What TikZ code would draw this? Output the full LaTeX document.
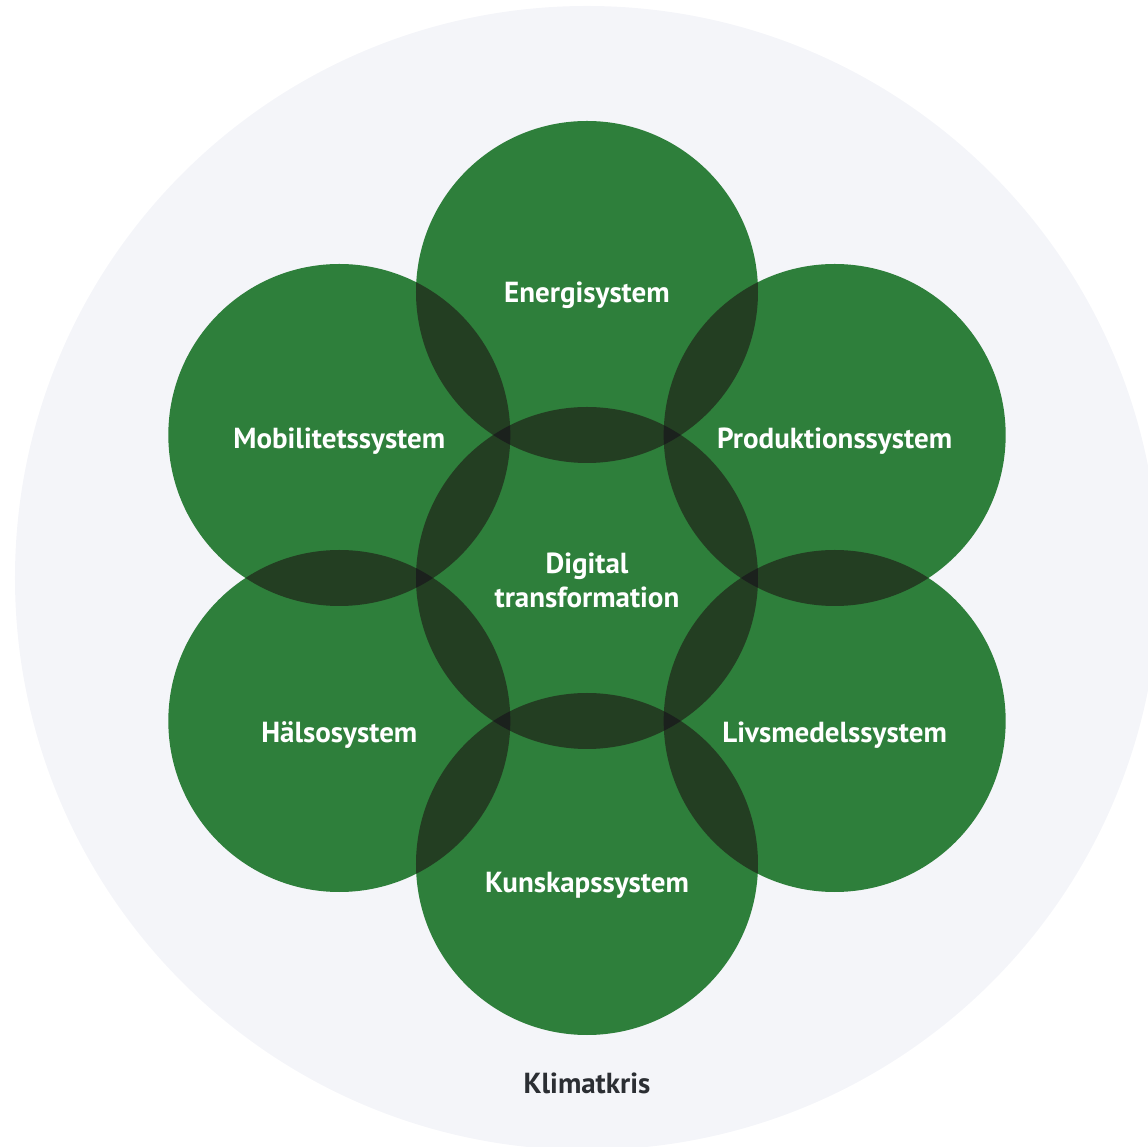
\documentclass[tikz,border=0pt]{standalone}
\usepackage{fontspec}
\setmainfont{PT Sans}
\usetikzlibrary{calc}
\definecolor{sysgreen}{HTML}{2E7F3B}
\definecolor{overlap}{HTML}{233E22}
\definecolor{triple}{HTML}{1B211D}
\definecolor{crisis}{HTML}{F4F5F9}
\definecolor{crisistext}{HTML}{2B2E33}
\newcommand{\sysr}{171}

\begin{document}
\begin{tikzpicture}[
    x=1pt, y=1pt,
    system/.style={circle, fill=sysgreen, minimum size=342pt, inner sep=0pt},
    syslabel/.style={text=white, align=center, font=\fontsize{29}{34}\selectfont\bfseries},
    ]
    \useasboundingbox (-587,-569) rectangle (561,578);
    \fill[crisis] (0,0) circle (572);

    \node at(90:286) [system](energi){};
    \node at(30:286) [system](produktion){};
    \node at(-30:286) [system](livsmedel){};
    \node at(-90:286) [system](kunskap){};
    \node at(-150:286) [system](halso){};
    \node at(150:286) [system](mobilitet){};
    \node at(0,0) [system](digital){};

    % pairwise overlaps
    \begin{scope}\clip (digital.center) circle (\sysr); \fill[overlap] (energi.center) circle (\sysr);\end{scope}
    \begin{scope}\clip (digital.center) circle (\sysr); \fill[overlap] (produktion.center) circle (\sysr);\end{scope}
    \begin{scope}\clip (digital.center) circle (\sysr); \fill[overlap] (livsmedel.center) circle (\sysr);\end{scope}
    \begin{scope}\clip (digital.center) circle (\sysr); \fill[overlap] (kunskap.center) circle (\sysr);\end{scope}
    \begin{scope}\clip (digital.center) circle (\sysr); \fill[overlap] (halso.center) circle (\sysr);\end{scope}
    \begin{scope}\clip (digital.center) circle (\sysr); \fill[overlap] (mobilitet.center) circle (\sysr);\end{scope}
    \begin{scope}\clip (energi.center) circle (\sysr); \fill[overlap] (produktion.center) circle (\sysr);\end{scope}
    \begin{scope}\clip (produktion.center) circle (\sysr); \fill[overlap] (livsmedel.center) circle (\sysr);\end{scope}
    \begin{scope}\clip (livsmedel.center) circle (\sysr); \fill[overlap] (kunskap.center) circle (\sysr);\end{scope}
    \begin{scope}\clip (kunskap.center) circle (\sysr); \fill[overlap] (halso.center) circle (\sysr);\end{scope}
    \begin{scope}\clip (halso.center) circle (\sysr); \fill[overlap] (mobilitet.center) circle (\sysr);\end{scope}
    \begin{scope}\clip (mobilitet.center) circle (\sysr); \fill[overlap] (energi.center) circle (\sysr);\end{scope}

    % triple overlaps
    \begin{scope}\clip (digital.center) circle (\sysr); \clip (energi.center) circle (\sysr); \fill[triple] (produktion.center) circle (\sysr);\end{scope}
    \begin{scope}\clip (digital.center) circle (\sysr); \clip (produktion.center) circle (\sysr); \fill[triple] (livsmedel.center) circle (\sysr);\end{scope}
    \begin{scope}\clip (digital.center) circle (\sysr); \clip (livsmedel.center) circle (\sysr); \fill[triple] (kunskap.center) circle (\sysr);\end{scope}
    \begin{scope}\clip (digital.center) circle (\sysr); \clip (kunskap.center) circle (\sysr); \fill[triple] (halso.center) circle (\sysr);\end{scope}
    \begin{scope}\clip (digital.center) circle (\sysr); \clip (halso.center) circle (\sysr); \fill[triple] (mobilitet.center) circle (\sysr);\end{scope}
    \begin{scope}\clip (digital.center) circle (\sysr); \clip (mobilitet.center) circle (\sysr); \fill[triple] (energi.center) circle (\sysr);\end{scope}

    % labels
    \node at([yshift=-3pt] energi.center) [syslabel](energitext){Energisystem};
    \node at([yshift=-6pt] produktion.center) [syslabel](produktiontext){Produktionssystem};
    \node at([yshift=-14pt] livsmedel.center) [syslabel](livsmedeltext){Livsmedelssystem};
    \node at([yshift=-21pt] kunskap.center) [syslabel](kunskaptext){Kunskapssystem};
    \node at([yshift=-14pt] halso.center) [syslabel](halsotext){Hälsosystem};
    \node at([yshift=-6pt] mobilitet.center) [syslabel](mobilitettext){Mobilitetssystem};
    \node at([yshift=-2pt] digital.center) [syslabel](digitaltext){Digital\\transformation};
    \node at(0,-505) [syslabel, text=crisistext](klimat){Klimatkris};
\end{tikzpicture}
\end{document}
